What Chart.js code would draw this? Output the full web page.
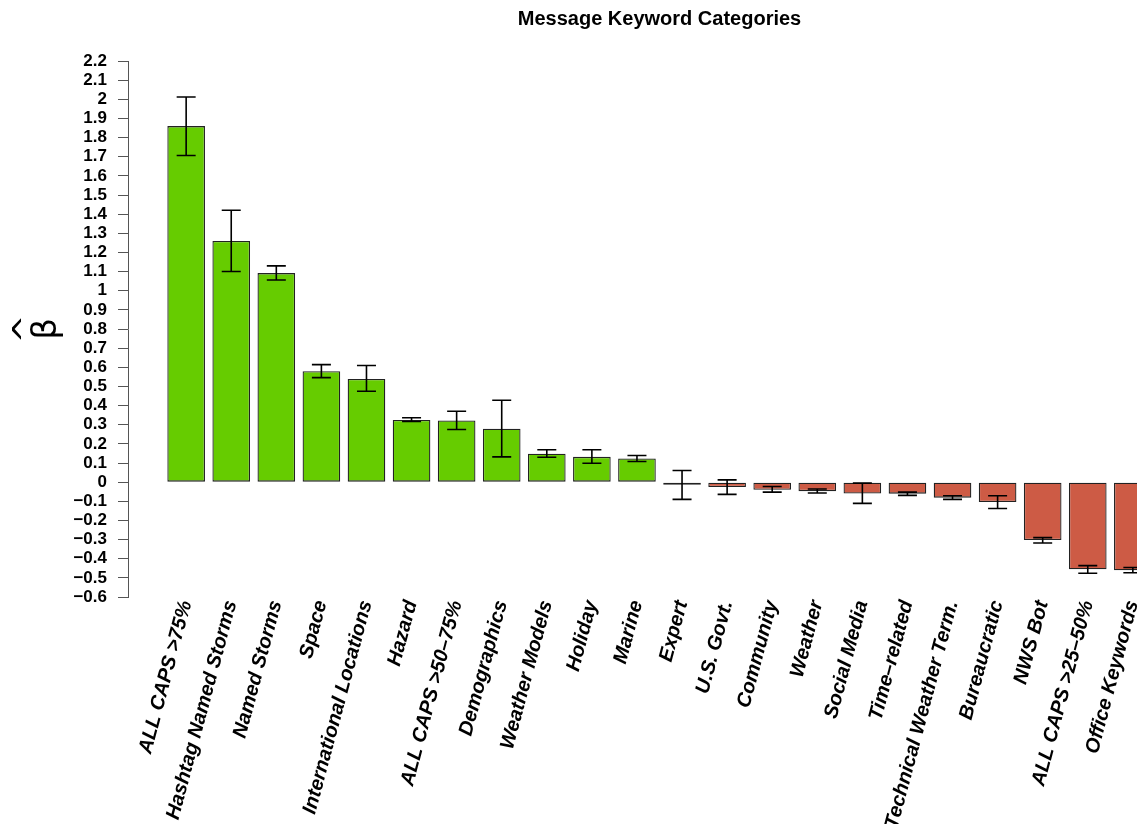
<!DOCTYPE html>
<html>
<head>
<meta charset="utf-8">
<script src="https://cdn.jsdelivr.net/npm/chart.js@4/dist/chart.umd.min.js"></script>
<style>
  html, body { margin: 0; padding: 0; background: #fff; overflow: hidden; }
  canvas { display: block; }
</style>
</head>
<body>
<canvas id="betaChart" width="1191" height="824"></canvas>
<script>
// keyword categories, sorted by coefficient
var categories = [
    'ALL CAPS >75%', 'Hashtag Named Storms', 'Named Storms', 'Space',
    'International Locations', 'Hazard', 'ALL CAPS >50\u201375%', 'Demographics',
    'Weather Models', 'Holiday', 'Marine', 'Expert', 'U.S. Govt.', 'Community',
    'Weather', 'Social Media', 'Time\u2013related', 'Technical Weather Term.',
    'Bureaucratic', 'NWS Bot', 'ALL CAPS >25\u201350%', 'Office Keywords'
];

// coefficient estimates (beta hat)
var estimates = [
    1.86, 1.26, 1.092, 0.579, 0.539, 0.325, 0.322, 0.279, 0.148, 0.132, 0.124,
    -0.014, -0.025, -0.040, -0.047, -0.059, -0.060, -0.081, -0.104, -0.302, -0.455, -0.460
];

// error bar ends
var ciLower = [
    1.706, 1.10, 1.056, 0.546, 0.475, 0.317, 0.275, 0.132, 0.130, 0.099, 0.108,
    -0.090, -0.064, -0.052, -0.057, -0.111, -0.069, -0.090, -0.138, -0.318, -0.476, -0.473
];
var ciUpper = [
    2.012, 1.42, 1.130, 0.614, 0.609, 0.336, 0.370, 0.428, 0.169, 0.169, 0.139,
    0.061, 0.012, -0.023, -0.036, -0.005, -0.052, -0.071, -0.071, -0.290, -0.436, -0.446
];

var yMin = -0.6, yMax = 2.2, yStep = 0.1;

var font = "'Liberation Sans', Arial, Helvetica, sans-serif";

var errorBars = {
    id: 'errorBars',
    afterDatasetsDraw: function (chart) {
        var ctx = chart.ctx;
        var xs = chart.scales.x, ys = chart.scales.y;
        ctx.save();
        ctx.strokeStyle = '#000';
        ctx.lineWidth = 1.6;
        for (var i = 0; i < categories.length; i++) {
            var x = xs.getPixelForValue(i);
            var lo = ys.getPixelForValue(ciLower[i]);
            var hi = ys.getPixelForValue(ciUpper[i]);
            var cap = 9.5;
            ctx.beginPath();
            ctx.moveTo(x, lo); ctx.lineTo(x, hi);
            ctx.moveTo(x - cap, lo); ctx.lineTo(x + cap, lo);
            ctx.moveTo(x - cap, hi); ctx.lineTo(x + cap, hi);
            ctx.stroke();
        }
        ctx.restore();
    }
};

var ctx = document.getElementById('betaChart').getContext('2d');
var chart = new Chart(ctx, {
    type: 'bar',
    data: {
        datasets: [{
            data: estimates.map(function (v, i) { return { x: i, y: v }; }),
            backgroundColor: estimates.map(function (v) { return v >= 0 ? '#66CC00' : '#CD5B45'; }),
            borderColor: '#222',
            borderWidth: 1.3,
            borderSkipped: false,
            categoryPercentage: 1,
            barPercentage: 0.835
        }]
    },
    plugins: [errorBars],
    options: {
        responsive: false,
        animation: false,
        devicePixelRatio: 1,
        layout: { padding: 0 },
        plugins: {
            legend: { display: false },
            tooltip: { enabled: false },
            title: {
                display: true,
                fullSize: false,
                text: 'Message Keyword Categories',
                color: '#000',
                font: { family: font, size: 20, weight: 'bold' },
                padding: { top: 7, bottom: 30 }
            }
        },
        scales: {
            x: {
                type: 'linear',
                min: -1.29,
                max: 22.29,
                offset: false,
                border: { display: false },
                grid: { display: false, drawTicks: false },
                afterBuildTicks: function (scale) {
                    scale.ticks = categories.map(function (c, i) { return { value: i }; });
                },
                afterFit: function (scale) { scale.height = 227; },
                ticks: {
                    autoSkip: false,
                    minRotation: 75,
                    maxRotation: 75,
                    padding: 1,
                    color: '#000',
                    font: { family: font, size: 20, weight: 'bold', style: 'italic' },
                    callback: function (v) { return categories[v]; }
                }
            },
            y: {
                min: yMin,
                max: yMax,
                afterFit: function (scale) { scale.width = 128; },
                border: { display: true, color: '#555', width: 1 },
                grid: { drawOnChartArea: false, drawTicks: true, tickLength: 10, color: '#555' },
                ticks: {
                    stepSize: yStep,
                    autoSkip: false,
                    padding: 11,
                    color: '#000',
                    font: { family: font, size: 17, weight: 'bold' },
                    callback: function (v) {
                        var n = Number(v.toFixed(1));
                        return n < 0 ? '\u2212' + Math.abs(n) : String(n);
                    }
                },
                title: {
                    display: true,
                    text: ['^', '\u03B2'],
                    color: '#000',
                    font: { family: "'DejaVu Sans', sans-serif", size: 34, lineHeight: 0.55 },
                    padding: { top: 19, bottom: 0 }
                }
            }
        }
    }
});
</script>
</body>
</html>
